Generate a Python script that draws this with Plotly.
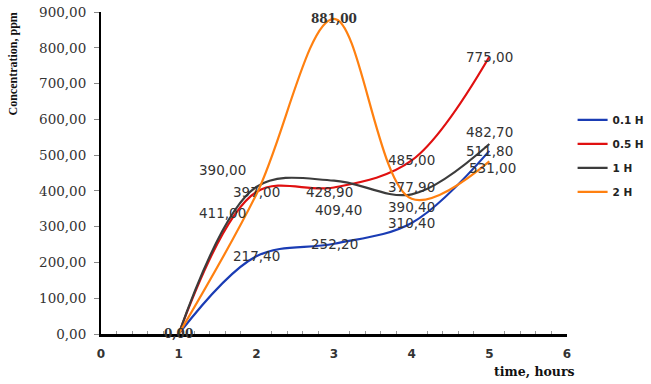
import plotly.graph_objects as go

# Sampling times (hours)
hours = [1, 2, 3, 4, 5]

# Concentration (ppm) for each treatment
conc_01h = [0.0, 217.4, 252.2, 310.4, 511.8]
conc_05h = [0.0, 397.0, 409.4, 485.0, 775.0]
conc_1h = [0.0, 411.0, 428.9, 390.4, 531.0]
conc_2h = [0.0, 390.0, 881.0, 377.9, 482.7]

series_names = ["0.1 H", "0.5 H", "1 H", "2 H"]
series_values = [conc_01h, conc_05h, conc_1h, conc_2h]
series_colors = ["#1a3cb4", "#e01010", "#3c3c3c", "#ff8010"]

# Pixel nudges for value labels that would otherwise overlap: (series, point) -> (dx, dy)
label_nudges = {
    (1, 2): (4, -22),
    (2, 1): (-34, -26),
    (2, 2): (-5, -11),
    (2, 3): (0, -13),
    (2, 4): (3, -24),
    (3, 1): (-34, 24),
    (3, 3): (0, 12),
    (3, 4): (0, 29),
}

fig = go.Figure()
for name, vals, col in zip(series_names, series_values, series_colors):
    fig.add_trace(go.Scatter(
        x=hours, y=vals, name=name, mode="lines", legendgroup=name,
        line=dict(color=col, width=2.2, shape="spline", smoothing=1.0),
    ))

def fmt(v):
    return f"{v:.2f}".replace(".", ",")

annotations = []
for si, vals in enumerate(series_values):
    for pi, (x, v) in enumerate(zip(hours, vals)):
        if pi == 0 and si != 0:
            continue  # the shared origin label is drawn once
        dx, dy = label_nudges.get((si, pi), (0, 0))
        serif = (v == 881.0) or pi == 0
        annotations.append(dict(
            x=x, y=v, xref="x", yref="y", text=fmt(v), showarrow=False,
            xanchor="center", yanchor="middle", xshift=dx, yshift=dy,
            font=dict(family="DejaVu Serif" if serif else "DejaVu Sans",
                      size=12 if serif else 13.5, color="#333333",
                      weight="bold" if serif else "normal"),
        ))

annotations.append(dict(
    x=-0.189, y=1.006, xref="paper", yref="paper", text="Concentration, ppm",
    textangle=-90, showarrow=False, xanchor="center", yanchor="top",
    font=dict(family="Liberation Serif", size=12, color="#111111", weight="bold"),
))
annotations.append(dict(
    x=1.021, y=-0.118, xref="paper", yref="paper", text="time, hours",
    showarrow=False, xanchor="right", yanchor="middle",
    font=dict(family="DejaVu Serif", size=12.5, color="#111111", weight="bold"),
))

fig.update_layout(
    width=651, height=384,
    margin=dict(l=101, r=84, t=12, b=50, autoexpand=False),
    plot_bgcolor="white", paper_bgcolor="white",
    showlegend=True,
    separators=",.",
    legend=dict(x=1.012, y=0.71, xanchor="left", yanchor="top",
                font=dict(family="DejaVu Sans", size=10.5, color="#222222", weight="bold"),
                tracegroupgap=5, itemwidth=30, bgcolor="rgba(0,0,0,0)"),
    annotations=annotations,
    xaxis=dict(
        range=[0, 6], dtick=1, tick0=0, showgrid=False, zeroline=False,
        showline=True, linecolor="#000000", linewidth=2.5,
        ticks="", ticklen=0, ticklabelstandoff=7,
        minor=dict(dtick=0.2, ticks="inside", ticklen=3, tickcolor="#999999", showgrid=False),
        tickfont=dict(family="DejaVu Sans", size=12, color="#333333", weight="bold"),
    ),
    yaxis=dict(
        range=[0, 900], dtick=100, showgrid=False, zeroline=False,
        showline=True, linecolor="#000000", linewidth=2,
        ticks="outside", ticklen=5, tickcolor="#888888", ticklabelstandoff=5,
        tickformat=".2f",
        tickfont=dict(family="DejaVu Serif", size=13.5, color="#333333"),
    ),
)

fig.write_html("out.html")
